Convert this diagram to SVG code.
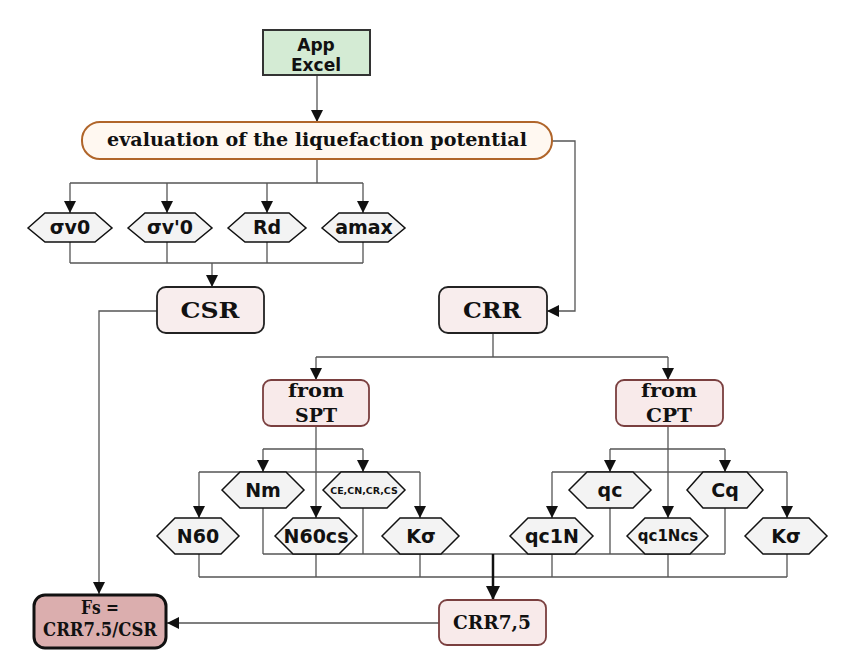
<svg xmlns="http://www.w3.org/2000/svg" width="841" height="653" viewBox="0 0 841 653">
<style>
.c{fill:none;stroke:#555;stroke-width:1.3}
.ca{fill:none;stroke:#555;stroke-width:1.3;marker-end:url(#ah)}
.hx{fill:#f3f3f3;stroke:#111;stroke-width:1.5}
.ht{font-family:"DejaVu Sans",sans-serif;font-weight:bold;font-size:19px;fill:#111;text-anchor:middle}
.st{font-family:"DejaVu Serif",serif;font-weight:bold;fill:#111;text-anchor:middle}
.pk{fill:#f8eded;stroke:#222;stroke-width:1.8}
.pr{fill:#f8eaea;stroke:#7a3f3f;stroke-width:1.8}
</style>
<defs>
<marker id="ah" viewBox="0 0 10 10" refX="10" refY="5" markerUnits="userSpaceOnUse" markerWidth="12" markerHeight="12" orient="auto">
<path d="M0,0 L10,5 L0,10 z" fill="#111"/>
</marker>
<marker id="ahb" viewBox="0 0 10 10" refX="10" refY="5" markerUnits="userSpaceOnUse" markerWidth="14" markerHeight="14" orient="auto">
<path d="M0,0 L10,5 L0,10 z" fill="#111"/>
</marker>
</defs>
<rect width="841" height="653" fill="#fff"/>
<g id="connectors">
<path class="ca" d="M317,75 V122"/>
<path class="c" d="M317,159 V183 M70,183 H363"/>
<path class="ca" d="M70,183 V213"/>
<path class="ca" d="M167,183 V213"/>
<path class="ca" d="M267,183 V213"/>
<path class="ca" d="M363,183 V213"/>
<path class="c" d="M70,242 V263 M167,242 V263 M267,242 V263 M363,242 V263 M70,263 H363"/>
<path class="ca" d="M212,263 V287"/>
<path class="ca" d="M552,141 H575 V311 H547"/>
<path class="ca" d="M157,311 H99 V594"/>
<path class="c" d="M493,333 V357 M316,357 H668"/>
<path class="ca" d="M316,357 V380"/>
<path class="ca" d="M668,357 V380"/>
<path class="ca" d="M316,426 V518"/>
<path class="c" d="M263,449 H363 M199,472 H420"/>
<path class="ca" d="M263,449 V472"/>
<path class="ca" d="M363,449 V472"/>
<path class="ca" d="M199,472 V518"/>
<path class="ca" d="M420,472 V518"/>
<path class="ca" d="M668,426 V518"/>
<path class="c" d="M610,449 H725 M552,472 H787"/>
<path class="ca" d="M610,449 V472"/>
<path class="ca" d="M725,449 V472"/>
<path class="ca" d="M552,472 V518"/>
<path class="ca" d="M787,472 V518"/>
<path class="c" d="M263,508 V554 M363,508 V554 M610,508 V554 M725,508 V554 M263,554 H725"/>
<path class="c" d="M199,554 V577 M316,554 V577 M420,554 V577 M552,554 V577 M668,554 V577 M787,554 V577 M199,577 H787"/>
<path fill="none" stroke="#111" stroke-width="2.5" marker-end="url(#ahb)" d="M493,554 V600"/>
<path class="ca" d="M439,623 H167"/>
</g>
<g id="app">
<rect x="263" y="30" width="107" height="45" fill="#d4ebd4" stroke="#333" stroke-width="2"/>
<text class="ht" x="316" y="51" style="font-size:17px">App</text>
<text class="ht" x="316" y="71" style="font-size:17px">Excel</text>
</g>
<g id="evaluation">
<rect x="82" y="122" width="470" height="37" rx="18" fill="#fff8f1" stroke="#b0652a" stroke-width="2"/>
<text class="st" x="317" y="146" font-size="18" textLength="420" lengthAdjust="spacingAndGlyphs">evaluation of the liquefaction potential</text>
</g>
<g id="sv0"><polygon class="hx" points="28,228 45,213 95,213 112,228 95,242 45,242"/><text class="ht" x="70" y="234">σv0</text></g>
<g id="sv1"><polygon class="hx" points="128,228 145,213 195,213 212,228 195,242 145,242"/><text class="ht" x="170" y="234">σv'0</text></g>
<g id="rd"><polygon class="hx" points="228,228 245,213 289,213 306,228 289,242 245,242"/><text class="ht" x="267" y="234">Rd</text></g>
<g id="amax"><polygon class="hx" points="322,228 339,213 388,213 405,228 388,242 339,242"/><text class="ht" x="364" y="234">amax</text></g>
<g id="csr">
<rect class="pk" x="157" y="287" width="107" height="46" rx="9"/>
<text class="st" x="210" y="318" font-size="22" textLength="59" lengthAdjust="spacingAndGlyphs">CSR</text>
</g>
<g id="crr">
<rect class="pk" x="439" y="287" width="108" height="46" rx="9"/>
<text class="st" x="492" y="318" font-size="22" textLength="58" lengthAdjust="spacingAndGlyphs">CRR</text>
</g>
<g id="spt">
<rect class="pr" x="263" y="380" width="106" height="46" rx="8"/>
<text class="st" x="316" y="397" font-size="18" textLength="56" lengthAdjust="spacingAndGlyphs">from</text>
<text class="st" x="316" y="422" font-size="18" textLength="42" lengthAdjust="spacingAndGlyphs">SPT</text>
</g>
<g id="cpt">
<rect class="pr" x="616" y="380" width="107" height="46" rx="8"/>
<text class="st" x="669" y="397" font-size="18" textLength="56" lengthAdjust="spacingAndGlyphs">from</text>
<text class="st" x="669" y="422" font-size="18" textLength="46" lengthAdjust="spacingAndGlyphs">CPT</text>
</g>
<g id="nm"><polygon class="hx" points="222,490 240,472 286,472 304,490 286,508 240,508"/><text class="ht" x="263" y="497">Nm</text></g>
<g id="cecn"><polygon class="hx" points="323,490 341,472 387,472 405,490 387,508 341,508"/><text class="ht" x="364" y="494" style="font-size:9.5px">CE,CN,CR,CS</text></g>
<g id="n60"><polygon class="hx" points="157,536 175,518 221,518 239,536 221,554 175,554"/><text class="ht" x="198" y="543">N60</text></g>
<g id="n60cs"><polygon class="hx" points="275,536 293,518 339,518 357,536 339,554 293,554"/><text class="ht" x="316" y="543">N60cs</text></g>
<g id="ks1"><polygon class="hx" points="382,536 400,518 441,518 459,536 441,554 400,554"/><text class="ht" x="421" y="543">Kσ</text></g>
<g id="qc"><polygon class="hx" points="569,490 587,472 633,472 651,490 633,508 587,508"/><text class="ht" x="610" y="497">qc</text></g>
<g id="cq"><polygon class="hx" points="687,490 703,472 747,472 763,490 747,508 703,508"/><text class="ht" x="725" y="497">Cq</text></g>
<g id="qc1n"><polygon class="hx" points="510,536 528,518 575,518 593,536 575,554 528,554"/><text class="ht" x="552" y="543">qc1N</text></g>
<g id="qc1ncs"><polygon class="hx" points="627,536 645,518 690,518 708,536 690,554 645,554"/><text class="ht" x="668" y="541" style="font-size:15px">qc1Ncs</text></g>
<g id="ks2"><polygon class="hx" points="745,536 763,518 809,518 827,536 809,554 763,554"/><text class="ht" x="786" y="543">Kσ</text></g>
<g id="crr75">
<rect class="pr" x="439" y="600" width="107" height="45" rx="8"/>
<text class="st" x="492" y="629" font-size="18" textLength="78" lengthAdjust="spacingAndGlyphs">CRR7,5</text>
</g>
<g id="fs">
<rect x="34" y="595" width="132" height="53" rx="11" fill="#dbaeae" stroke="#111" stroke-width="3"/>
<text class="st" x="100" y="614" font-size="18" textLength="38" lengthAdjust="spacingAndGlyphs">Fs =</text>
<text class="st" x="100" y="636" font-size="18" textLength="114" lengthAdjust="spacingAndGlyphs">CRR7.5/CSR</text>
</g>
</svg>
